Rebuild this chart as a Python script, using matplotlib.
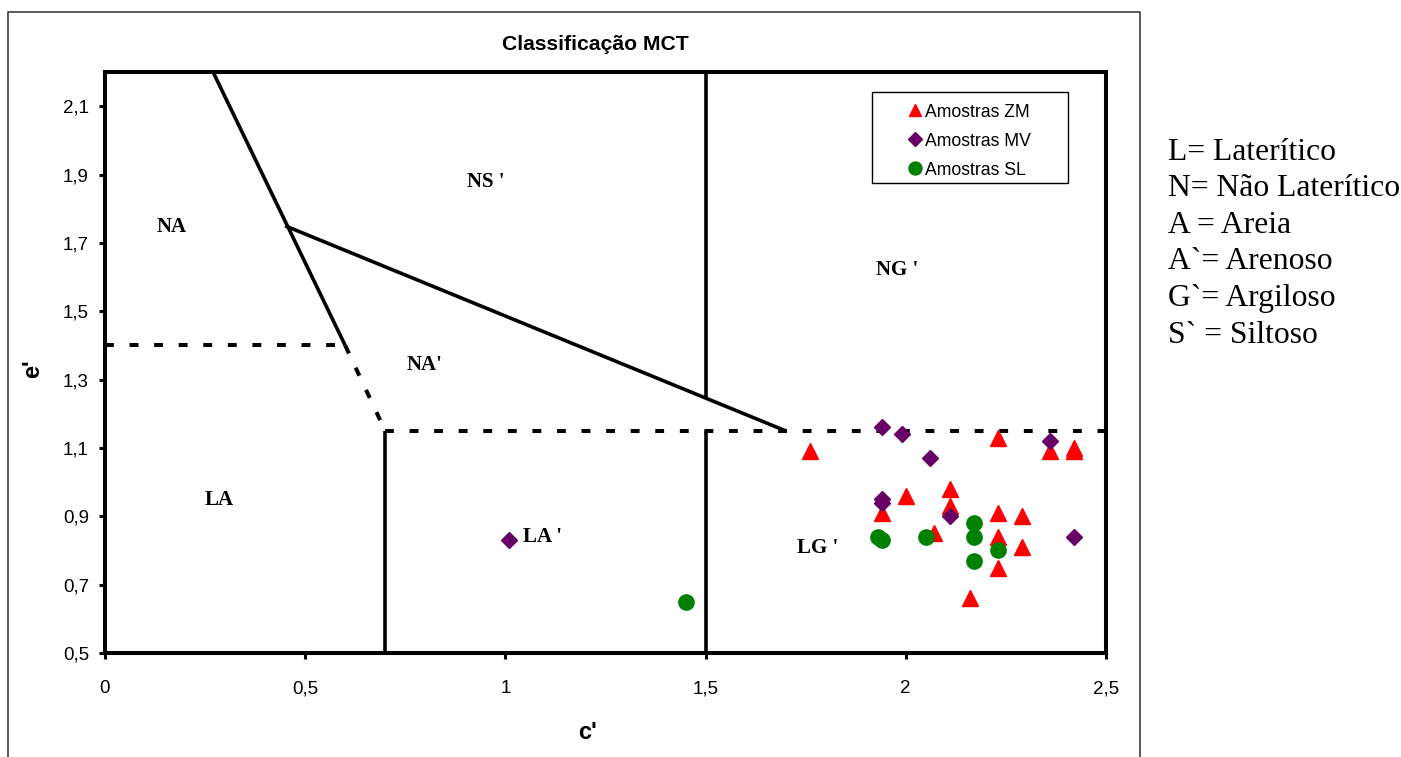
import matplotlib

matplotlib.use("Agg")
import matplotlib.pyplot as plt
from matplotlib.patches import Rectangle

SANS = ["Liberation Sans", "DejaVu Sans"]
SERIF = ["Liberation Serif", "DejaVu Serif"]

# samples: c' and e'
zm_c = [1.76, 2.23, 2.36, 2.42, 2.42, 2.00, 2.11, 2.11, 1.94, 2.23, 2.29, 2.07, 2.23, 2.29, 2.23, 2.16]
zm_e = [1.09, 1.13, 1.09, 1.10, 1.09, 0.96, 0.98, 0.93, 0.91, 0.91, 0.90, 0.85, 0.84, 0.81, 0.75, 0.66]
mv_c = [1.94, 1.99, 2.06, 1.94, 1.94, 2.11, 2.36, 2.42, 1.01]
mv_e = [1.16, 1.14, 1.07, 0.95, 0.94, 0.90, 1.12, 0.84, 0.83]
sl_c = [1.93, 1.94, 2.05, 2.17, 2.17, 2.17, 2.23, 1.45]
sl_e = [0.84, 0.83, 0.84, 0.88, 0.84, 0.77, 0.80, 0.65]

# MCT chart boundaries (c' list, e' list)
solid_lines = [
    ([0.27, 0.60], [2.20, 1.40]),
    ([0.45, 1.70], [1.75, 1.15]),
    ([1.50, 1.50], [2.20, 1.25]),
    ([1.50, 1.50], [1.15, 0.50]),
    ([0.70, 0.70], [1.15, 0.50]),
]
dashed_lines = [
    ([0.00, 0.60], [1.40, 1.40]),
    ([0.60, 0.70], [1.40, 1.15]),
    ([0.70, 2.50], [1.15, 1.15]),
]

zone_names = ["NA", "NS '", "NG '", "NA'", "LA", "LA '", "LG '"]
zone_c = [0.167, 0.952, 1.978, 0.799, 0.285, 1.094, 1.781]
zone_e = [1.745, 1.877, 1.622, 1.344, 0.948, 0.840, 0.808]

x_ticks = [0, 0.5, 1, 1.5, 2, 2.5]
x_labels = ["0", "0,5", "1", "1,5", "2", "2,5"]
y_ticks = [0.5, 0.7, 0.9, 1.1, 1.3, 1.5, 1.7, 1.9, 2.1]
y_labels = ["0,5", "0,7", "0,9", "1,1", "1,3", "1,5", "1,7", "1,9", "2,1"]

notes = ["L= Laterítico", "N= Não Laterítico", "A = Areia",
         "A`= Arenoso", "G`= Argiloso", "S` = Siltoso"]

fig = plt.figure(figsize=(14.01, 7.57), dpi=100)
ax = fig.add_axes([0.0749, 0.1374, 0.7145, 0.7675])

# outer chart frame
fig.add_artist(Rectangle((0.0057, -0.02), 0.808, 1.0041, transform=fig.transFigure,
                         fill=False, edgecolor="#404040", linewidth=1.2))

for cs, es in solid_lines:
    ax.plot(cs, es, color="black", linewidth=2.6, solid_capstyle="butt", zorder=2)
for cs, es in dashed_lines:
    ax.plot(cs, es, color="black", linewidth=2.9, dashes=(2.2, 3.9), zorder=2)

ax.plot(zm_c, zm_e, "^", color="#ff0000", markersize=11, linestyle="none",
        label="Amostras ZM", zorder=3)
ax.plot(mv_c, mv_e, "D", color="#660066", markersize=8, linestyle="none",
        label="Amostras MV", zorder=4)
ax.plot(sl_c, sl_e, "o", color="#008000", markersize=11, linestyle="none",
        label="Amostras SL", zorder=5)

for name, c, e in zip(zone_names, zone_c, zone_e):
    ax.text(c, e, name, ha="center", va="center", fontsize=15, weight="bold",
            family=SERIF, zorder=6)

ax.set_xlim(0, 2.5)
ax.set_ylim(0.5, 2.2)
ax.set_xticks(x_ticks)
ax.set_xticklabels(x_labels, family=SANS, fontsize=13.5, verticalalignment="baseline")
ax.set_yticks(y_ticks)
ax.set_yticklabels(y_labels, family=SANS, fontsize=13.5)
ax.tick_params(axis="both", direction="out", length=4, width=2.2)
ax.tick_params(axis="x", pad=25)
ax.tick_params(axis="y", pad=7.5)
for sp in ax.spines.values():
    sp.set_linewidth(2.9)

# legend with a hand drawn box
leg = ax.legend(loc="upper left", bbox_to_anchor=(0.800, 0.9455), borderaxespad=0,
                borderpad=0, frameon=False, handlelength=1.0, handletextpad=0.1,
                labelspacing=0.68, markerscale=0.85,
                prop={"family": SANS, "size": 12.7})
ax.add_patch(Rectangle((0.766, 0.809), 0.1958, 0.1566, transform=ax.transAxes,
                       fill=False, edgecolor="black", linewidth=1.0, zorder=6))

fig.text(0.4247, 0.9406, "Classificação MCT", ha="center", va="center",
         fontsize=15.2, weight="bold", family=SANS)
fig.text(0.4197, 0.032, "c'", ha="center", va="center", fontsize=17,
         weight="bold", family=SANS)
fig.text(0.0235, 0.513, "e'", ha="center", va="center", fontsize=17,
         weight="bold", family=SANS, rotation=90)

for i, line in enumerate(notes):
    fig.text(0.8337, 1 - (152 + 36.6 * i) / 757, line, ha="left", va="center",
             fontsize=22.8, family=SERIF)

fig.savefig("out.png", dpi=100)
